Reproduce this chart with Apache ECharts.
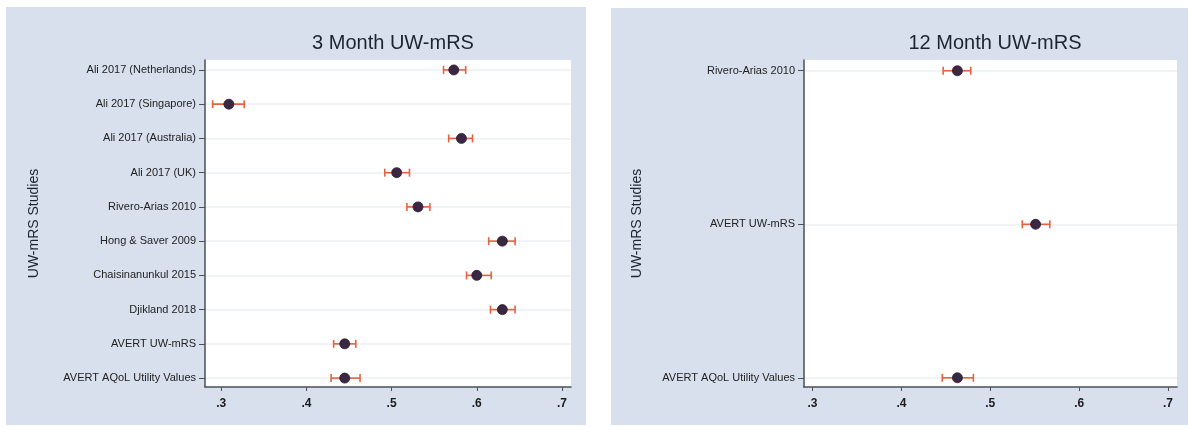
<!DOCTYPE html>
<html>
<head>
<meta charset="utf-8">
<script src="https://cdn.jsdelivr.net/npm/echarts@6/dist/echarts.min.js"></script>
<style>
  html, body { margin: 0; padding: 0; background: #ffffff; }
  #chart { width: 1188px; height: 427px; }
</style>
</head>
<body>
<div id="chart"></div>
<script>
// 3-month UW-mRS studies, listed top to bottom
const studies3 = [
  'Ali 2017 (Netherlands)', 'Ali 2017 (Singapore)', 'Ali 2017 (Australia)', 'Ali 2017 (UK)',
  'Rivero-Arias 2010', 'Hong & Saver 2009', 'Chaisinanunkul 2015', 'Djikland 2018',
  'AVERT UW-mRS', 'AVERT AQoL Utility Values'
];
const mean3  = [0.573, 0.309, 0.582, 0.506, 0.531, 0.630, 0.600, 0.630, 0.445, 0.445];
const lower3 = [0.561, 0.290, 0.567, 0.492, 0.518, 0.614, 0.588, 0.616, 0.432, 0.429];
const upper3 = [0.587, 0.327, 0.595, 0.521, 0.545, 0.645, 0.617, 0.645, 0.458, 0.463];

// 12-month UW-mRS studies, listed top to bottom
const studies12 = ['Rivero-Arias 2010', 'AVERT UW-mRS', 'AVERT AQoL Utility Values'];
const mean12  = [0.463, 0.551, 0.463];
const lower12 = [0.447, 0.536, 0.446];
const upper12 = [0.478, 0.567, 0.481];

const xTicks = [0.3, 0.4, 0.5, 0.6, 0.7];
const titles = ['3 Month UW-mRS', '12 Month UW-mRS'];
const yTitle = 'UW-mRS Studies';

const BAR = '#e6623f';
const DOT = '#3a2742';
const INK = '#1c2433';
const PANEL = '#d8e0ed';

// rows are numbered from the bottom, so the first study sits at the top
function rowsOf(names, lo, mid, hi) {
  const n = names.length;
  return names.map((name, i) => ({ name, y: n - i, lo: lo[i], mid: mid[i], hi: hi[i] }));
}
const rows3 = rowsOf(studies3, lower3, mean3, upper3);
const rows12 = rowsOf(studies12, lower12, mean12, upper12);

function yAxisFor(idx, names, min, max, gap) {
  const n = names.length;
  const vals = names.map((_, i) => n - i);
  return {
    gridIndex: idx, type: 'value', min: min, max: max,
    name: yTitle, nameLocation: 'middle', nameGap: gap, nameRotate: 90,
    nameTextStyle: { color: INK, fontSize: 14, fontFamily: 'Liberation Sans' },
    axisLine: { show: true, lineStyle: { color: '#4a4f58', width: 1.5 } },
    axisTick: { show: true, length: 6, customValues: vals, lineStyle: { color: '#4a4f58', width: 1 } },
    axisLabel: {
      customValues: vals, margin: 9, color: '#222222', fontSize: 11,
      fontFamily: 'Liberation Sans',
      formatter: v => names[n - Math.round(v)] || ''
    },
    splitLine: { show: true, lineStyle: { color: '#edf0f5', width: 1.5 } }
  };
}

function xAxisFor(idx, min, max) {
  return {
    gridIndex: idx, type: 'value', min: min, max: max,
    axisLine: { show: true, onZero: false, lineStyle: { color: '#4a4f58', width: 1.5 } },
    axisTick: { show: true, length: 4, customValues: xTicks, lineStyle: { color: '#4a4f58' } },
    axisLabel: {
      customValues: xTicks, margin: 11, color: '#1a1a1a', fontSize: 12, fontWeight: 'bold',
      fontFamily: 'Liberation Sans',
      formatter: v => v.toFixed(1).replace(/^0/, '')
    },
    splitLine: { show: false }
  };
}

// horizontal confidence interval with end caps
function errorBar(params, api) {
  const y = api.value(0);
  const a = api.coord([api.value(1), y]);
  const b = api.coord([api.value(2), y]);
  const cap = 4;
  const style = { stroke: BAR, lineWidth: 1.6 };
  return {
    type: 'group',
    children: [
      { type: 'line', shape: { x1: a[0], y1: a[1], x2: b[0], y2: b[1] }, style },
      { type: 'line', shape: { x1: a[0], y1: a[1] - cap, x2: a[0], y2: a[1] + cap }, style },
      { type: 'line', shape: { x1: b[0], y1: b[1] - cap, x2: b[0], y2: b[1] + cap }, style }
    ]
  };
}

function seriesFor(idx, rows) {
  return [
    {
      type: 'custom', xAxisIndex: idx, yAxisIndex: idx,
      renderItem: errorBar,
      encode: { x: [1, 2], y: 0 },
      data: rows.map(r => [r.y, r.lo, r.hi]),
      silent: true, z: 2
    },
    {
      type: 'scatter', xAxisIndex: idx, yAxisIndex: idx,
      symbol: 'circle', symbolSize: 10,
      itemStyle: { color: DOT, borderColor: '#2a1e33', borderWidth: 0.8, opacity: 1 },
      data: rows.map(r => [r.mid, r.y]),
      silent: true, z: 3
    }
  ];
}

const chart = echarts.init(document.getElementById('chart'), null, { renderer: 'canvas' });
chart.setOption({
  animation: false,
  backgroundColor: '#ffffff',
  graphic: [
    { type: 'rect', shape: { x: 6, y: 7, width: 580, height: 418 }, style: { fill: PANEL }, z: -10 },
    { type: 'rect', shape: { x: 611, y: 8, width: 577, height: 417 }, style: { fill: PANEL }, z: -10 }
  ],
  title: [
    { text: titles[0], left: 388, top: 28, textAlign: 'center',
      textStyle: { color: INK, fontSize: 20, fontWeight: 'normal', fontFamily: 'Liberation Sans' } },
    { text: titles[1], left: 990, top: 28, textAlign: 'center',
      textStyle: { color: INK, fontSize: 20, fontWeight: 'normal', fontFamily: 'Liberation Sans' } }
  ],
  grid: [
    { left: 205, top: 60, width: 366, height: 327, show: true, backgroundColor: '#ffffff', borderWidth: 0 },
    { left: 804, top: 60, width: 373, height: 327, show: true, backgroundColor: '#ffffff', borderWidth: 0 }
  ],
  xAxis: [xAxisFor(0, 0.281, 0.7106), xAxisFor(1, 0.2904, 0.7101)],
  yAxis: [
    yAxisFor(0, studies3, 0.74, 10.29, 164),
    yAxisFor(1, studies12, 0.94, 3.07, 160)
  ],
  series: [...seriesFor(0, rows3), ...seriesFor(1, rows12)]
});
</script>
</body>
</html>
